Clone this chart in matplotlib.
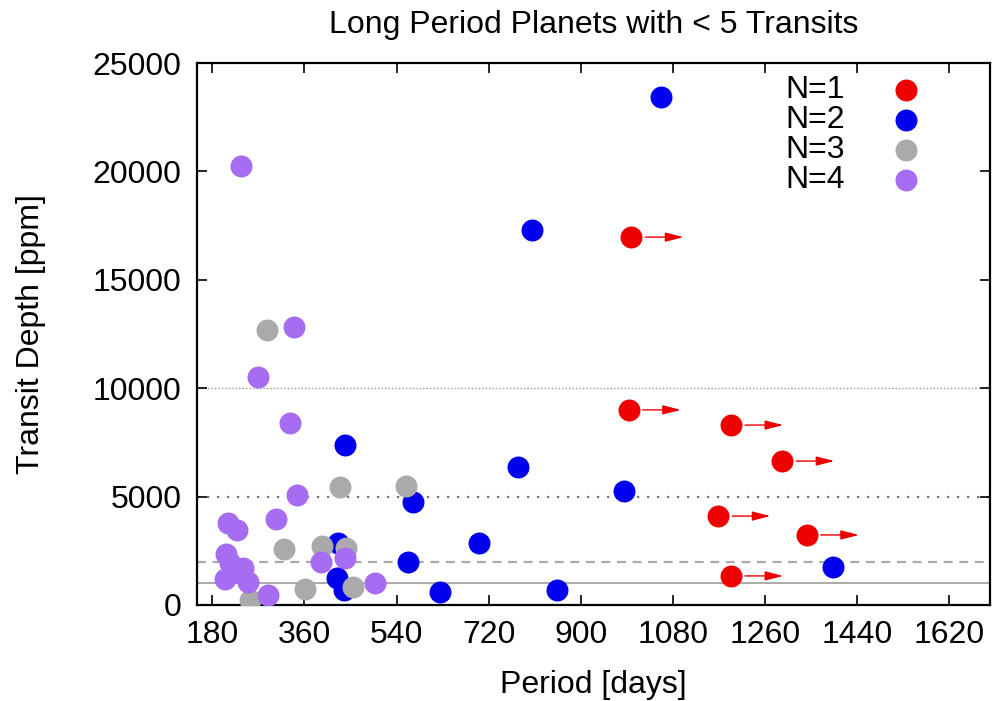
import matplotlib.pyplot as plt
import numpy as np

plt.rcParams['font.family'] = ['Liberation Sans', 'DejaVu Sans']

# N=1 (single transit, period is a lower limit)
p1 = [999, 994, 1194, 1294, 1169, 1342, 1194]
d1 = [16970, 9000, 8300, 6640, 4100, 3230, 1340]

# N=2
p2 = [1056, 805, 440, 777, 984, 573, 701, 563, 1393, 625, 853, 425, 423, 438]
d2 = [23430, 17300, 7380, 6370, 5260, 4750, 2860, 1980, 1750, 600, 690, 2860, 1250, 700]

# N=3
p3 = [286, 430, 559, 321, 395, 442, 362, 454, 253]
d3 = [12690, 5440, 5490, 2580, 2720, 2630, 740, 830, 230]

# N=4
p4 = [236, 339, 269, 331, 345, 304, 210, 228, 206, 214, 240, 205, 249, 234, 288, 393, 440, 497]
d4 = [20250, 12820, 10520, 8400, 5070, 3970, 3780, 3460, 2350, 1940, 1710, 1200, 1060, 1480, 460, 1980, 2170, 1020]

labels = ['N=1', 'N=2', 'N=3', 'N=4']
colors = ['#ee0000', '#0000ee', '#aaaaaa', '#a66cf2']

arrow_len = 102  # days

fig = plt.figure(figsize=(10.02, 7.01), dpi=100)
ax = fig.add_axes([0.1966, 0.137, 0.7914, 0.773])

# reference levels
ax.axhline(10000, color='#999999', lw=1.0, ls=(0, (1, 1.5)), zorder=1)
ax.axhline(5000, color='#777777', lw=1.6, ls=(0, (1, 3.5)), zorder=1)
ax.axhline(2000, color='#aaaaaa', lw=1.6, ls=(0, (4, 3)), zorder=1)
ax.axhline(1000, color='#aaaaaa', lw=1.4, ls='-', zorder=1)

ms = 250
ax.scatter(p2, d2, s=ms, color=colors[1], lw=0, zorder=3)
ax.scatter(p3, d3, s=ms, color=colors[2], lw=0, zorder=4)
ax.scatter(p4, d4, s=ms, color=colors[3], lw=0, zorder=5)
ax.scatter(p1, d1, s=ms, color=colors[0], lw=0, zorder=6)

for p, d in zip(p1, d1):
    ax.annotate('', xy=(p + arrow_len, d), xytext=(p, d),
                arrowprops=dict(arrowstyle='-|>,head_length=1.1,head_width=0.28',
                                color='#ee0000', lw=1.0, shrinkA=10, shrinkB=0),
                zorder=6)

# key, gnuplot style: label then marker
for i, (lab, c) in enumerate(zip(labels, colors)):
    y = 0.950 - i * 0.0555
    ax.text(0.7415, y, lab, transform=ax.transAxes, fontsize=23,
            ha='left', va='center')
    ax.scatter([0.894], [y], s=ms, color=c, lw=0, transform=ax.transAxes,
               clip_on=False, zorder=7)

ax.set_xlim(150, 1700)
ax.set_ylim(0, 25000)
ax.set_xticks(np.arange(180, 1621, 180))
ax.set_yticks(np.arange(0, 25001, 5000))
ax.tick_params(direction='in', length=7, width=1.2, labelsize=23,
               top=True, right=True, pad=11)
for s in ax.spines.values():
    s.set_linewidth(1.6)

ax.set_xlabel('Period [days]', fontsize=23, labelpad=14)
ax.set_ylabel('Transit Depth [ppm]', fontsize=23, labelpad=34)
ax.set_title('Long Period Planets with < 5 Transits', fontsize=23, pad=22)

fig.savefig('out.png', dpi=100)
